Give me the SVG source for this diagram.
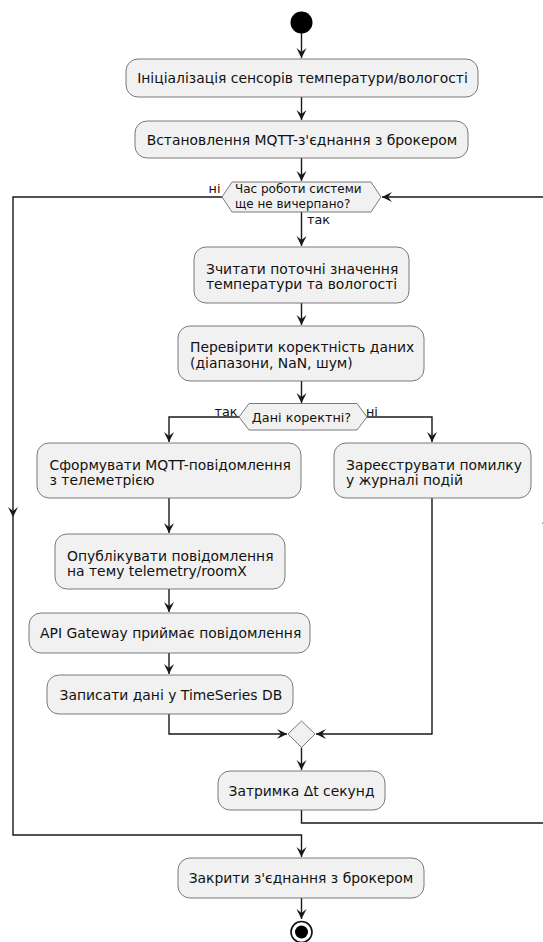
<svg xmlns="http://www.w3.org/2000/svg" width="543" height="942" viewBox="0 0 543 942">
  <style>
    .act rect { fill: #F1F1F1; stroke: #6b6b6b; stroke-width: 0.9; }
    .act polygon { fill: #F1F1F1; stroke: #6b6b6b; stroke-width: 0.9; }
    .t { font-family: "DejaVu Sans", sans-serif; font-size: 13.9px; fill: #111; }
    .ts { font-family: "DejaVu Sans", sans-serif; font-size: 12px; fill: #111; }
    .tl { font-family: "DejaVu Sans", sans-serif; font-size: 12.8px; fill: #111; }
    .edge { fill: none; stroke: #181818; stroke-width: 1.4; }
    .head { fill: #181818; }
  </style>
  <defs>
    <marker id="arr" viewBox="-11 -6 12 12" refX="0" refY="0" markerWidth="12" markerHeight="12" markerUnits="userSpaceOnUse" orient="auto">
      <path d="M0,0 L-10,-5 L-6,0 L-10,5 Z" fill="#181818"/>
    </marker>
    <path id="downHead" d="M0,0 L-5,-10 L0,-6 L5,-10 Z"/>
  </defs>

  <!-- connectors -->
  <g id="connectors">
    <path class="edge" d="M301.5,33 V58" marker-end="url(#arr)"/>
    <path class="edge" d="M301.5,97 V120" marker-end="url(#arr)"/>
    <path class="edge" d="M301.5,158 V181" marker-end="url(#arr)"/>
    <path class="edge" d="M301.5,212 V246" marker-end="url(#arr)"/>
    <path class="edge" d="M301.5,303 V325" marker-end="url(#arr)"/>
    <path class="edge" d="M301.5,381 V403" marker-end="url(#arr)"/>
    <!-- branch: valid -->
    <path class="edge" d="M239,417 H169 V442" marker-end="url(#arr)"/>
    <!-- branch: invalid -->
    <path class="edge" d="M367,417 H432 V442" marker-end="url(#arr)"/>
    <path class="edge" d="M169,498 V533" marker-end="url(#arr)"/>
    <path class="edge" d="M169,589 V612" marker-end="url(#arr)"/>
    <path class="edge" d="M169,653 V674" marker-end="url(#arr)"/>
    <!-- merge -->
    <path class="edge" d="M169,714 V734 H287" marker-end="url(#arr)"/>
    <path class="edge" d="M432,498 V734 H316" marker-end="url(#arr)"/>
    <path class="edge" d="M301.5,747.5 V770" marker-end="url(#arr)"/>
    <!-- loop back -->
    <path class="edge" d="M301.5,810 V823 H547 V197 H382" marker-end="url(#arr)"/>
    <use href="#downHead" class="head" transform="translate(547,514) rotate(180)"/>
    <!-- loop exit -->
    <path class="edge" d="M222,197 H13 V835 H301.5 V857" marker-end="url(#arr)"/>
    <use href="#downHead" class="head" transform="translate(13,517)"/>
    <path class="edge" d="M301.5,898 V919" marker-end="url(#arr)"/>
    <!-- edge labels -->
    <text class="tl" x="220.5" y="193" text-anchor="end">ні</text>
    <text class="tl" x="307" y="224">так</text>
    <text class="tl" x="237.5" y="416" text-anchor="end">так</text>
    <text class="tl" x="366" y="416">ні</text>
  </g>

  <g id="start">
    <circle cx="301.5" cy="22.5" r="11" fill="#000"/>
  </g>

  <g id="init" class="act">
    <rect x="126" y="59" width="352" height="38" rx="12"/>
    <text class="t" x="302.5" y="83" text-anchor="middle">Ініціалізація сенсорів температури/вологості</text>
  </g>

  <g id="connect" class="act">
    <rect x="135" y="121" width="333" height="37" rx="12"/>
    <text class="t" x="302" y="144.5" text-anchor="middle">Встановлення MQTT-з'єднання з брокером</text>
  </g>

  <g id="loopCheck" class="act">
    <polygon points="222,197 232,182 371,182 381,197 371,212 232,212"/>
    <text class="ts" x="235" y="192.5">Час роботи системи</text>
    <text class="ts" x="235" y="207.5">ще не вичерпано?</text>
  </g>

  <g id="read" class="act">
    <rect x="194" y="247" width="215" height="56" rx="12"/>
    <text class="t" x="206" y="273.5">Зчитати поточні значення</text>
    <text class="t" x="206" y="289">температури та вологості</text>
  </g>

  <g id="validate" class="act">
    <rect x="178" y="326" width="246" height="55" rx="12"/>
    <text class="t" x="190" y="352">Перевірити коректність даних</text>
    <text class="t" x="190" y="367.5">(діапазони, NaN, шум)</text>
  </g>

  <g id="validCheck" class="act">
    <polygon points="239,417 249,403.5 357,403.5 367,417 357,430 249,430"/>
    <text class="tl" x="301.5" y="421.5" text-anchor="middle">Дані коректні?</text>
  </g>

  <g id="buildMsg" class="act">
    <rect x="37" y="443" width="264" height="55" rx="12"/>
    <text class="t" x="49.5" y="469.5">Сформувати MQTT-повідомлення</text>
    <text class="t" x="49.5" y="485">з телеметрією</text>
  </g>

  <g id="logError" class="act">
    <rect x="334" y="443" width="197" height="55" rx="12"/>
    <text class="t" x="346" y="469.5">Зареєструвати помилку</text>
    <text class="t" x="346" y="485">у журналі подій</text>
  </g>

  <g id="publish" class="act">
    <rect x="55" y="534" width="230" height="55" rx="12"/>
    <text class="t" x="67" y="560.5">Опублікувати повідомлення</text>
    <text class="t" x="67" y="576">на тему telemetry/roomX</text>
  </g>

  <g id="gateway" class="act">
    <rect x="29" y="613" width="281" height="40" rx="12"/>
    <text class="t" x="40" y="638">API Gateway приймає повідомлення</text>
  </g>

  <g id="store" class="act">
    <rect x="47" y="675" width="246" height="39" rx="12"/>
    <text class="t" x="59.5" y="699.5">Записати дані у TimeSeries DB</text>
  </g>

  <g id="merge" class="act">
    <polygon points="301.5,721 315,734 301.5,747.5 288,734"/>
  </g>

  <g id="delay" class="act">
    <rect x="218" y="771" width="167" height="39" rx="12"/>
    <text class="t" x="301.5" y="795.5" text-anchor="middle">Затримка Δt секунд</text>
  </g>

  <g id="close" class="act">
    <rect x="178" y="858" width="246" height="40" rx="12"/>
    <text class="t" x="301" y="883" text-anchor="middle">Закрити з'єднання з брокером</text>
  </g>

  <g id="end">
    <circle cx="301.5" cy="932" r="10.5" fill="#fff" stroke="#111" stroke-width="1.6"/>
    <circle cx="301.5" cy="932" r="6.5" fill="#000"/>
  </g>
</svg>
